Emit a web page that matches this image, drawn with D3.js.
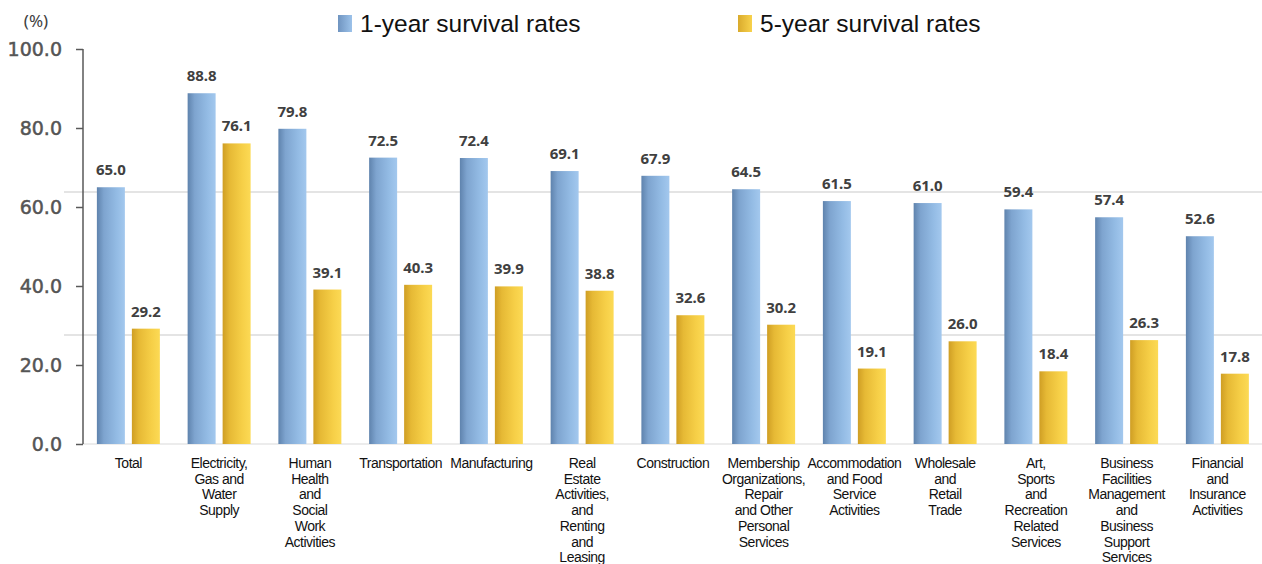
<!DOCTYPE html>
<html lang="en">
<head>
<meta charset="UTF-8"/>
<title>Survival rates by industry</title>
<script src="https://d3js.org/d3.v7.min.js"></script>
<style>
  body { margin: 0; background: #fff; }
  svg { display: block; }
</style>
</head>
<body>
<script>
var w = 1262;
var h = 564;

// data
var categories = [
  ["Total"],
  ["Electricity,", "Gas and", "Water", "Supply"],
  ["Human", "Health", "and", "Social", "Work", "Activities"],
  ["Transportation"],
  ["Manufacturing"],
  ["Real", "Estate", "Activities,", "and", "Renting", "and", "Leasing"],
  ["Construction"],
  ["Membership", "Organizations,", "Repair", "and Other", "Personal", "Services"],
  ["Accommodation", "and Food", "Service", "Activities"],
  ["Wholesale", "and", "Retail", "Trade"],
  ["Art,", "Sports", "and", "Recreation", "Related", "Services"],
  ["Business", "Facilities", "Management", "and", "Business", "Support", "Services"],
  ["Financial", "and", "Insurance", "Activities"]
];
var oneYear = [65.0, 88.8, 79.8, 72.5, 72.4, 69.1, 67.9, 64.5, 61.5, 61.0, 59.4, 57.4, 52.6];
var fiveYear = [29.2, 76.1, 39.1, 40.3, 39.9, 38.8, 32.6, 30.2, 19.1, 26.0, 18.4, 26.3, 17.8];
var seriesNames = ["1-year survival rates", "5-year survival rates"];
var yTicks = [0, 20, 40, 60, 80, 100];
var guideLines = [63.8, 27.6];

var data = categories.map(function(c, i) {
  return { name: c, values: [oneYear[i], fiveYear[i]] };
});

var svg = d3.select("body").append("svg")
  .attr("width", w)
  .attr("height", h);

// gradients for bars
var defs = svg.append("defs");
function grad(id, stops) {
  var g = defs.append("linearGradient").attr("id", id)
    .attr("x1", "0%").attr("x2", "100%").attr("y1", "0%").attr("y2", "0%");
  stops.forEach(function(s) {
    g.append("stop").attr("offset", s[0]).attr("stop-color", s[1]);
  });
}
grad("gBlue", [["0%", "#5f83ad"], ["25%", "#7ea4cf"], ["70%", "#93bbe4"], ["100%", "#a3c8ee"]]);
grad("gYellow", [["0%", "#cf9e24"], ["25%", "#e6b935"], ["70%", "#f6cf47"], ["100%", "#fcda55"]]);
grad("lBlue", [["0%", "#6f94c0"], ["100%", "#9cc2ea"]]);
grad("lYellow", [["0%", "#d9aa2c"], ["100%", "#f8d24c"]]);
var fills = ["url(#gBlue)", "url(#gYellow)"];
var legendFills = ["url(#lBlue)", "url(#lYellow)"];

var x0 = d3.scaleBand()
  .domain(d3.range(categories.length))
  .range([83, 1262.75])
  .paddingInner(0.306)
  .paddingOuter(0.153);

var x1 = d3.scaleBand()
  .domain([0, 1])
  .range([0, x0.bandwidth()])
  .paddingInner(0.2);

var y = d3.scaleLinear()
  .domain([0, 100])
  .range([444, 49]);

// odd grey guide lines seen in the figure
svg.selectAll("line.guide")
  .data(guideLines)
  .enter()
  .append("line")
  .attr("class", "guide")
  .attr("x1", 64).attr("x2", w)
  .attr("y1", function(d) { return y(d); })
  .attr("y2", function(d) { return y(d); })
  .attr("stroke", "#c9c9c9")
  .attr("stroke-width", 1.2);

// baseline
svg.append("line")
  .attr("x1", 83).attr("x2", w)
  .attr("y1", y(0)).attr("y2", y(0))
  .attr("stroke", "#d9d9d9");

// y axis
var yAxis = d3.axisLeft(y)
  .tickValues(yTicks)
  .tickFormat(d3.format(".1f"))
  .tickSize(7)
  .tickPadding(14);

var gy = svg.append("g")
  .attr("transform", "translate(83,0)")
  .call(yAxis);
gy.select(".domain").attr("stroke", "#595959").attr("stroke-width", 1.5).attr("d", "M0," + y(100) + "V" + y(0));
gy.selectAll(".tick line").attr("stroke", "#595959").attr("stroke-width", 1.5);
gy.selectAll(".tick text")
  .attr("fill", "#555")
  .attr("stroke", "#555")
  .attr("stroke-width", 0.5)
  .style("font-family", "'DejaVu Sans', sans-serif")
  .style("font-size", "19px")
  .attr("dy", "0.36em");

svg.append("text")
  .attr("x", 36).attr("y", 27)
  .attr("text-anchor", "middle")
  .attr("fill", "#404040")
  .style("font-family", "'Noto Sans', sans-serif")
  .style("font-size", "17px")
  .text("(%)");

// bars
var groups = svg.selectAll("g.cat")
  .data(data)
  .enter()
  .append("g")
  .attr("class", "cat")
  .attr("transform", function(d, i) { return "translate(" + x0(i) + ",0)"; });

groups.selectAll("rect")
  .data(function(d) { return d.values; })
  .enter()
  .append("rect")
  .attr("x", function(d, j) { return x1(j); })
  .attr("y", function(d) { return y(d); })
  .attr("width", x1.bandwidth())
  .attr("height", function(d) { return y(0) - y(d); })
  .attr("fill", function(d, j) { return fills[j]; });

groups.selectAll("text.val")
  .data(function(d) { return d.values; })
  .enter()
  .append("text")
  .attr("class", "val")
  .attr("x", function(d, j) { return x1(j) + x1.bandwidth() / 2; })
  .attr("y", function(d) { return y(d) - 12; })
  .attr("text-anchor", "middle")
  .attr("fill", "#404040")
  .style("font-family", "'Noto Sans', sans-serif")
  .style("font-weight", "bold")
  .style("font-size", "15px")
  .text(function(d) { return d.toFixed(1); });

// category labels
groups.append("text")
  .attr("text-anchor", "middle")
  .attr("fill", "#111")
  .style("font-family", "'Liberation Sans', Arial, sans-serif")
  .style("font-size", "14px")
  .style("letter-spacing", "-0.5px")
  .attr("transform", "translate(" + (x0.bandwidth() / 2) + ",0)")
  .selectAll("tspan")
  .data(function(d) { return d.name; })
  .enter()
  .append("tspan")
  .attr("x", 0)
  .attr("y", function(d, k) { return 468 + k * 15.7; })
  .text(function(d) { return d; });

// legend
var legendX = [338, 738];
var legend = svg.selectAll("g.legend")
  .data(seriesNames)
  .enter()
  .append("g")
  .attr("class", "legend")
  .attr("transform", function(d, i) { return "translate(" + legendX[i] + ",0)"; });

legend.append("rect")
  .attr("x", 0).attr("y", 15)
  .attr("width", 14).attr("height", 17)
  .attr("fill", function(d, i) { return legendFills[i]; });

legend.append("text")
  .attr("x", 22).attr("y", 32)
  .attr("fill", "#111")
  .style("font-family", "'Liberation Sans', Arial, sans-serif")
  .style("font-size", "24.5px")
  .text(function(d) { return d; });
</script>
</body>
</html>
